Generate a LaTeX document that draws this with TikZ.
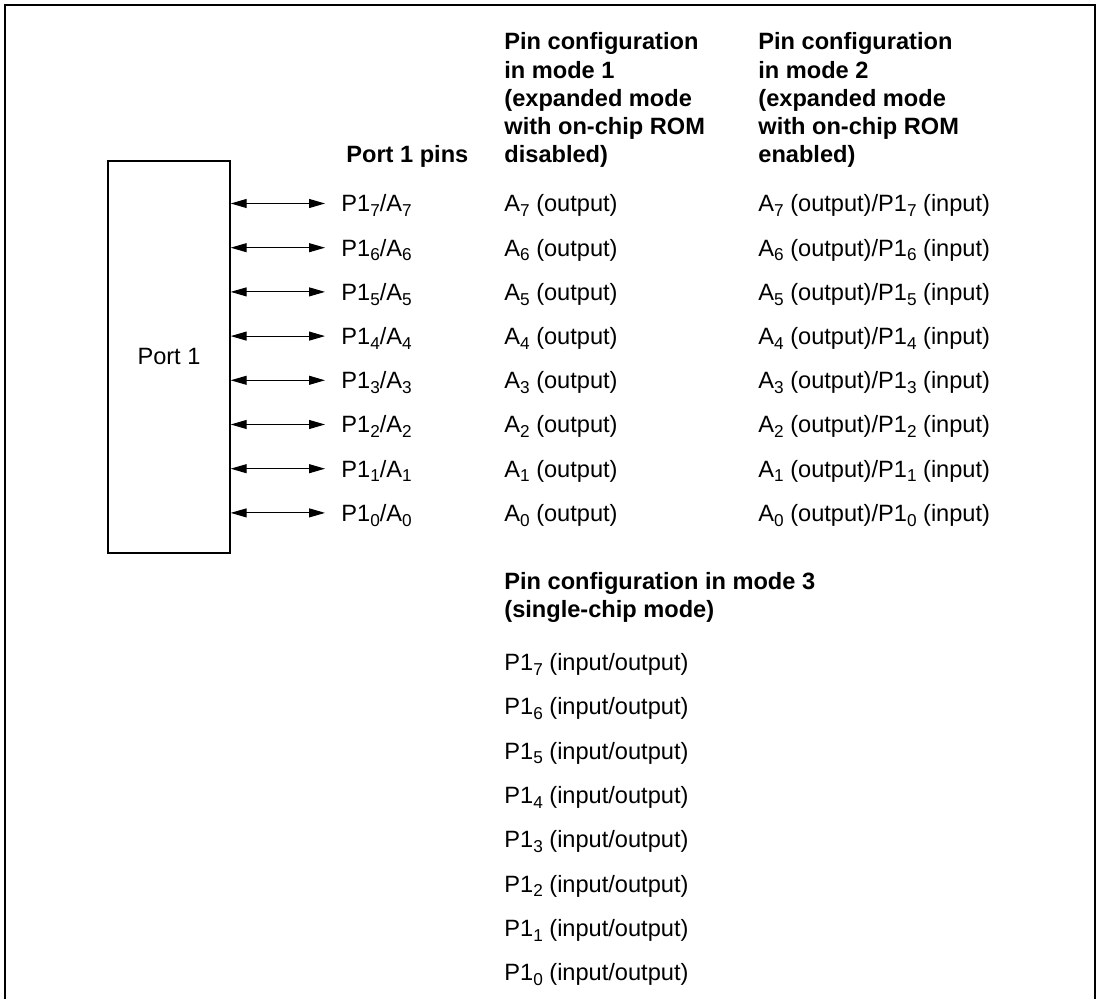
\documentclass[tikz,border=0pt]{standalone}
\usepackage{fontspec}
\setmainfont{Liberation Sans}
\usetikzlibrary{arrows.meta}
\newcommand\sbs[1]{\raisebox{-2.4pt}{\fontsize{8.6}{10}\selectfont #1}}
\begin{document}
\begin{tikzpicture}[x=0.5pt,y=-0.5pt,
  txt/.style={anchor=base west, inner sep=0pt, font=\fontsize{11.8}{14}\selectfont},
  hdr/.style={anchor=base west, inner sep=0pt, font=\fontsize{11.8}{14}\selectfont\bfseries},
  pinarrow/.style={line width=0.5pt, {Triangle[length=8pt,width=4.5pt]}-{Triangle[length=8pt,width=4.5pt]}},
  portbox/.style={draw, line width=0.7pt, minimum width=61pt, minimum height=196pt, inner sep=0pt, font=\fontsize{11.8}{14}\selectfont},
  frameline/.style={line width=1pt}]
\useasboundingbox (0,0) rectangle (1098,999);
\draw[frameline] (5,1010) -- (5,5) -- (1095,5) -- (1095,1010);

\node[portbox] (port) at (169,357) {Port 1};

% headers
\node[hdr] (h0) at (346,163) {Port 1 pins};
\foreach \t [count=\k from 0] in {{Pin configuration}, {in mode 1}, {(expanded mode}, {with on-chip ROM}, {disabled)}}
  \node[hdr] (ha\k) at (504,{50+28.25*\k}) {\t};
\foreach \t [count=\k from 0] in {{Pin configuration}, {in mode 2}, {(expanded mode}, {with on-chip ROM}, {enabled)}}
  \node[hdr] (hb\k) at (758,{50+28.25*\k}) {\t};
\node[hdr] (hc0) at (504,590) {Pin configuration in mode 3};
\node[hdr] (hc1) at (504,618) {(single-chip mode)};

% rows
\foreach \i in {0,...,7}{
  \pgfmathtruncatemacro{\n}{7-\i}
  \coordinate (t\i) at (325,{203.5+44.2*\i});
  \draw[pinarrow] (port.east |- t\i) -- (t\i);
  \node[txt] (p\i) at (341,{212+44.2*\i}) {P1\sbs{\n}/A\sbs{\n}};
  \node[txt] (m\i) at (504,{212+44.2*\i}) {A\sbs{\n} (output)};
  \node[txt] (n\i) at (758,{212+44.2*\i}) {A\sbs{\n} (output)/P1\sbs{\n} (input)};
  \node[txt] (s\i) at (504,{670.5+44.3*\i}) {P1\sbs{\n} (input/output)};
}
\end{tikzpicture}
\end{document}
